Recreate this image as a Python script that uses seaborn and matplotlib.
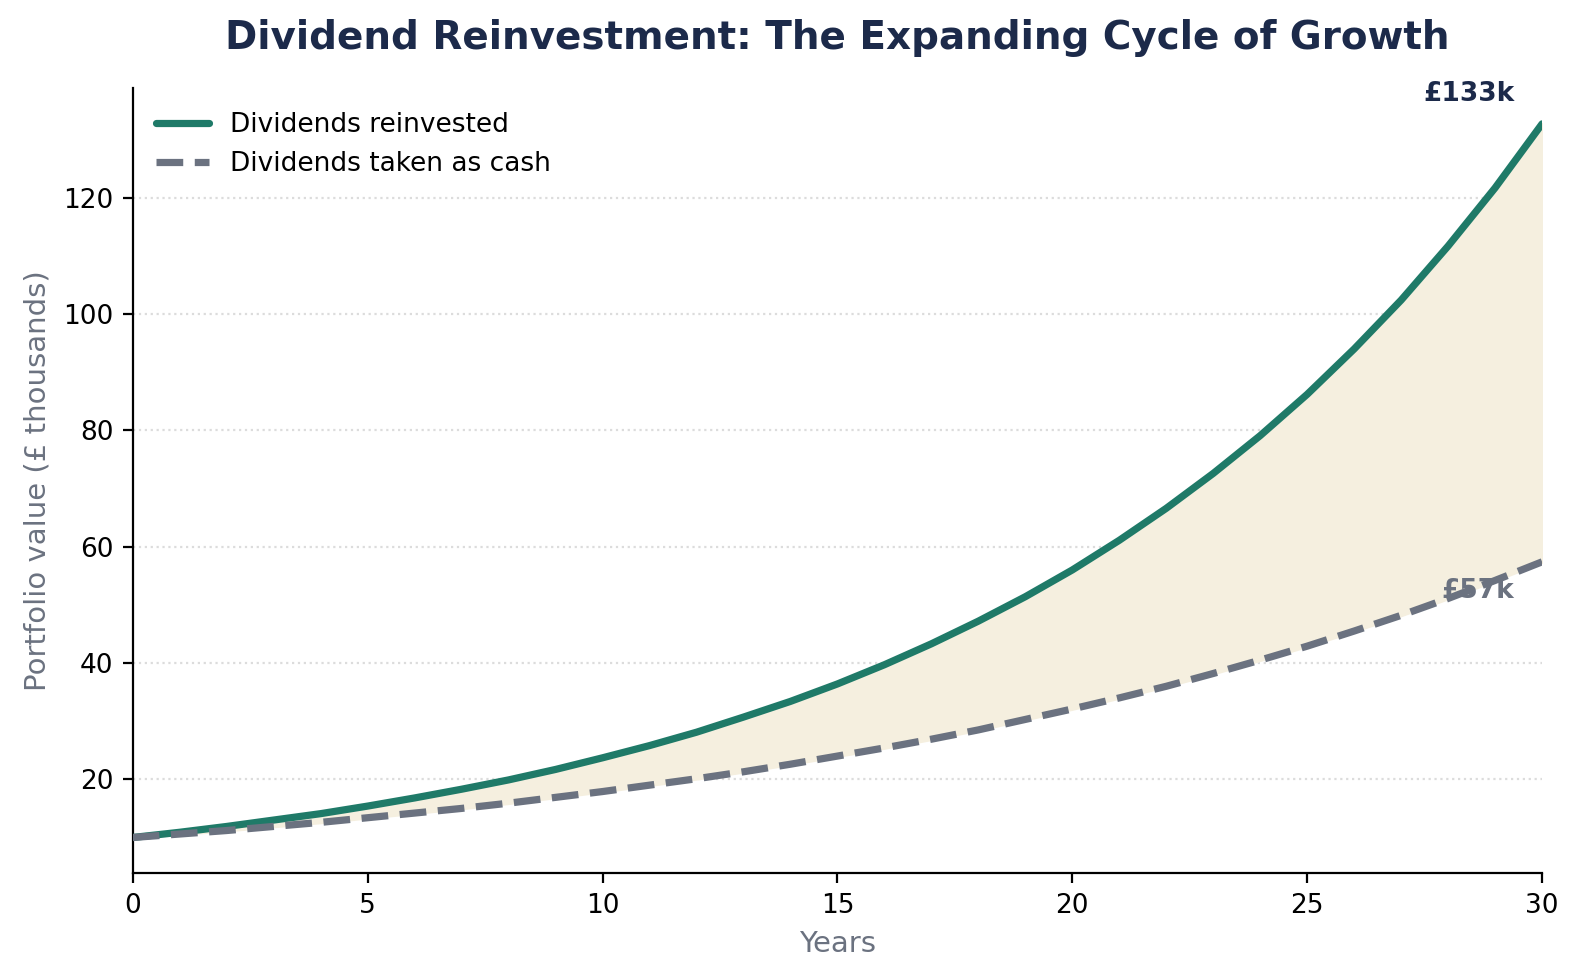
import matplotlib.pyplot as plt
import numpy as np
import pandas as pd
import seaborn as sns

# values (portfolio value, £ thousands)
years = list(range(0, 31))
reinvested = [10.0, 10.9, 11.9, 13.0, 14.1, 15.4, 16.8, 18.3, 19.9, 21.7,
              23.7, 25.8, 28.1, 30.7, 33.4, 36.4, 39.7, 43.3, 47.2, 51.4,
              56.0, 61.1, 66.6, 72.6, 79.1, 86.2, 94.0, 102.4, 111.7, 121.7,
              132.7]
cash = [10.0, 10.6, 11.2, 11.9, 12.6, 13.4, 14.2, 15.0, 15.9, 16.9,
        17.9, 19.0, 20.1, 21.3, 22.6, 24.0, 25.4, 26.9, 28.5, 30.3,
        32.1, 34.0, 36.0, 38.2, 40.5, 42.9, 45.5, 48.2, 51.1, 54.2,
        57.4]
series_names = ['Dividends reinvested', 'Dividends taken as cash']

green = '#1f7a68'
grey = '#6b7280'
navy = '#1c2a4a'

df = pd.DataFrame({
    'Years': years * 2,
    'Value': reinvested + cash,
    'Series': [series_names[0]] * len(years) + [series_names[1]] * len(years),
})

sns.set_style('ticks')
plt.rcParams['font.family'] = ['DejaVu Sans']

fig, ax = plt.subplots(figsize=(7.9, 4.9), dpi=200)

ax.fill_between(years, cash, reinvested, color='#f5efdf', zorder=1)

sns.lineplot(data=df, x='Years', y='Value', hue='Series', style='Series',
             palette={series_names[0]: green, series_names[1]: grey},
             dashes={series_names[0]: '', series_names[1]: (3.7, 1.6)},
             linewidth=2.6, ax=ax, zorder=3)

ax.set_xlim(0, 30)
ax.set_xticks([0, 5, 10, 15, 20, 25, 30])
ax.set_yticks([20, 40, 60, 80, 100, 120])
ax.yaxis.grid(True, linestyle=':', color='#dcdcdc', linewidth=0.8)
ax.set_axisbelow(True)
sns.despine(ax=ax)

ax.set_xlabel('Years', color=grey, fontsize=10.5)
ax.set_ylabel('Portfolio value (£ thousands)', color=grey, fontsize=10.5)
ax.tick_params(labelsize=9.5, colors='black')
for s in ax.spines.values():
    s.set_color('black')
ax.set_title('Dividend Reinvestment: The Expanding Cycle of Growth',
             fontsize=14, fontweight='bold', color=navy, pad=14)

ax.annotate(f'£{reinvested[-1]:.0f}k', xy=(years[-1], reinvested[-1]),
            xytext=(-10, 6), textcoords='offset points', ha='right',
            va='bottom', fontsize=9.5, fontweight='bold', color=navy)
ax.annotate(f'£{cash[-1]:.0f}k', xy=(years[-1], cash[-1]),
            xytext=(-10, -6), textcoords='offset points', ha='right',
            va='top', fontsize=9.5, fontweight='bold', color=grey)

leg = ax.legend(loc='upper left', frameon=False, fontsize=9.5,
                handlelength=2.0)
for text in leg.get_texts():
    text.set_color('black')
for line in leg.get_lines():
    line.set_linewidth(2.6)

fig.subplots_adjust(left=0.084, right=0.976, top=0.91, bottom=0.109)
fig.savefig('out.png', dpi=200)
